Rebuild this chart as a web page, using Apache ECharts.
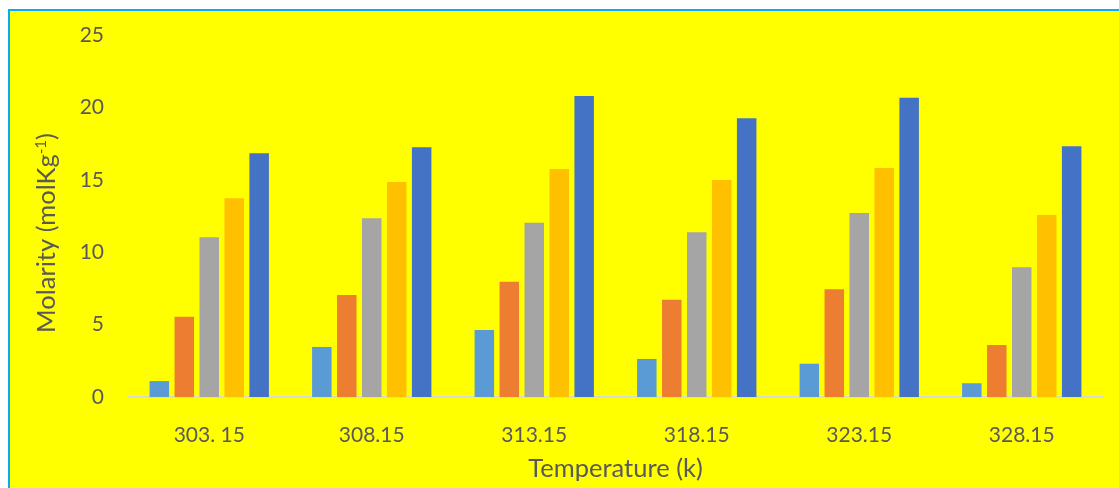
<!DOCTYPE html>
<html>
<head>
<meta charset="utf-8">
<script src="https://cdn.jsdelivr.net/npm/echarts@6/dist/echarts.min.js"></script>
<style>
  html, body { margin: 0; padding: 0; background: #ffffff; overflow: hidden; }
  #frame { position: absolute; left: 8px; top: 9px; width: 1200px; height: 600px; background: #FFFF00; border-left: 2.5px solid #00B0F0; border-top: 2.5px solid #00B0F0; }
  #chart { position: absolute; left: 0; top: 0; width: 1119px; height: 488px; }
</style>
</head>
<body>
<div id="frame"></div>
<div id="chart"></div>
<script>
const categories = ['303. 15', '308.15', '313.15', '318.15', '323.15', '328.15'];
const series1 = [1.1, 3.46, 4.63, 2.63, 2.30, 0.95];
const series2 = [5.55, 7.05, 7.97, 6.73, 7.44, 3.59];
const series3 = [11.04, 12.35, 12.05, 11.38, 12.72, 8.96];
const series4 = [13.73, 14.86, 15.76, 15.0, 15.83, 12.58];
const series5 = [16.84, 17.26, 20.8, 19.26, 20.69, 17.33];
const yTicks = { min: 0, max: 25, interval: 5 };

const colors = ['#5B9BD5', '#ED7D31', '#A5A5A5', '#FFC000', '#4472C4'];
const allSeries = [series1, series2, series3, series4, series5];
const fontFamily = 'Lato, "Liberation Sans", sans-serif';

const chart = echarts.init(document.getElementById('chart'), null, { renderer: 'canvas' });
chart.setOption({
  backgroundColor: 'transparent',
  animation: false,
  grid: { left: 128, right: 16, top: 35.3, bottom: 91, containLabel: false },
  xAxis: {
    type: 'category',
    data: categories,
    axisTick: { show: false },
    axisLine: { lineStyle: { color: '#D9D9D9', width: 2 } },
    axisLabel: { color: '#595959', fontSize: 21, fontFamily: fontFamily, margin: 28 },
    name: 'Temperature (k)',
    nameLocation: 'middle',
    nameGap: 59,
    nameTextStyle: { color: '#595959', fontSize: 25.5, fontFamily: fontFamily }
  },
  yAxis: {
    type: 'value',
    min: yTicks.min, max: yTicks.max, interval: yTicks.interval,
    splitLine: { show: false },
    axisLine: { show: false },
    axisTick: { show: false },
    axisLabel: { color: '#595959', fontSize: 21, fontFamily: fontFamily, margin: 24 },
    name: '{a|Molarity (molKg}{s|-1}{a|)}',
    nameLocation: 'middle',
    nameRotate: 90,
    nameGap: 68,
    nameTextStyle: {
      color: '#595959', fontSize: 25.5, fontFamily: fontFamily,
      padding: [0, 34, 0, 0],
      rich: {
        a: { color: '#595959', fontSize: 25.5, fontFamily: fontFamily },
        s: { color: '#595959', fontSize: 15, fontFamily: fontFamily, verticalAlign: 'top', padding: [0, 0, 11, 0] }
      }
    }
  },
  series: allSeries.map((d, i) => ({
    name: 'Series' + (i + 1),
    type: 'bar',
    data: d,
    barWidth: 19.5,
    barGap: '28%',
    itemStyle: { color: colors[i] }
  }))
});
</script>
</body>
</html>
